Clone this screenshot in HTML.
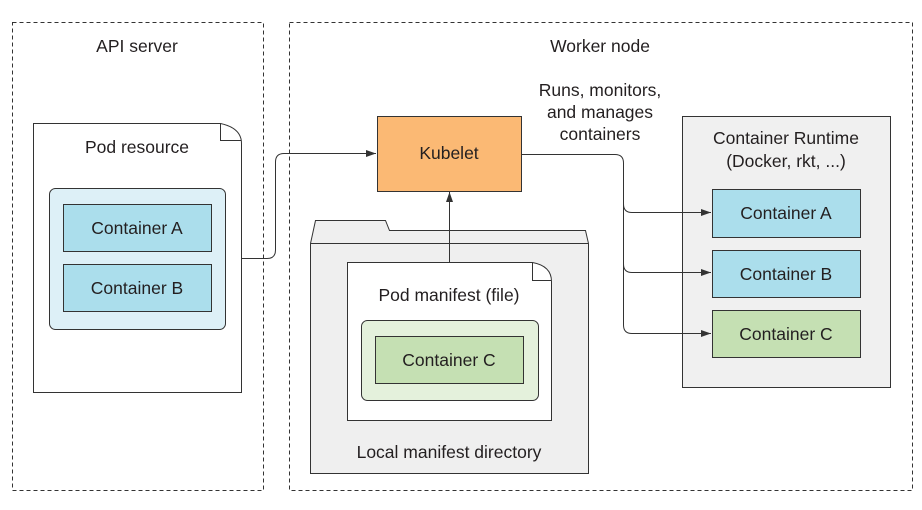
<!DOCTYPE html>
<html><head><style>
body{margin:0;background:#fff;}
svg text{font-family:"Liberation Sans",sans-serif;font-size:17.5px;fill:#231f20;text-anchor:middle;}
</style></head><body>
<svg width="922" height="505" viewBox="0 0 922 505" xmlns="http://www.w3.org/2000/svg">
<defs><marker id="a" markerWidth="10" markerHeight="8" refX="10" refY="4" orient="auto" markerUnits="userSpaceOnUse"><path d="M0,0.5 L10,4 L0,7.5 Z" fill="#333"/></marker></defs>
<g fill="none" stroke="#333" stroke-width="1" stroke-dasharray="4,3">
<rect x="12.5" y="22.5" width="251" height="468"/>
<rect x="289.5" y="22.5" width="623" height="468"/>
</g>
<text x="137" y="52">API server</text>
<text x="600" y="52">Worker node</text>
<path d="M33.5,123.5 H220.5 Q241.5,128 241.5,143.5 V392.5 H33.5 Z" fill="#fff" stroke="#333"/>
<path d="M220.5,123.5 V140.5 H241" fill="none" stroke="#333"/>
<text x="137" y="153">Pod resource</text>
<rect x="49.5" y="188.5" width="176" height="141" rx="6" fill="#ddf0f7" stroke="#333"/>
<rect x="63.5" y="204.5" width="148" height="47" fill="#abdeec" stroke="#333"/>
<rect x="63.5" y="264.5" width="148" height="47" fill="#abdeec" stroke="#333"/>
<text x="137" y="234">Container A</text>
<text x="137" y="294">Container B</text>
<path d="M241.5,258.5 H267 Q275.5,258.5 275.5,250 V162 Q275.5,153.5 284,153.5 H376" fill="none" stroke="#333" marker-end="url(#a)"/>
<rect x="377.5" y="116.5" width="144" height="75" fill="#fbb974" stroke="#333"/>
<text x="449" y="159">Kubelet</text>
<path d="M310.5,243.5 L315.5,220.5 H385.5 L389.5,230.5 H585.5 L588.5,243.5 V473.5 H310.5 Z" fill="#efefef" stroke="#333"/>
<path d="M310.5,243.5 H588.5" stroke="#333"/>
<path d="M347.5,262.5 H532.5 Q551.5,266 551.5,281.5 V420.5 H347.5 Z" fill="#fff" stroke="#333"/>
<path d="M532.5,262.5 V280.5 H551" fill="none" stroke="#333"/>
<text x="449" y="301">Pod manifest (file)</text>
<rect x="361.5" y="320.5" width="177" height="80" rx="6" fill="#e4f1dc" stroke="#333"/>
<rect x="375.5" y="336.5" width="148" height="47" fill="#c5e0b3" stroke="#333"/>
<text x="449" y="366">Container C</text>
<text x="449" y="458">Local manifest directory</text>
<path d="M449.5,262 V192" fill="none" stroke="#333" marker-end="url(#a)"/>
<rect x="682.5" y="116.5" width="208" height="271" fill="#f0f0f0" stroke="#333"/>
<text x="786" y="144">Container Runtime</text>
<text x="786" y="167">(Docker, rkt, ...)</text>
<rect x="712.5" y="189.5" width="148" height="48" fill="#abdeec" stroke="#333"/>
<rect x="712.5" y="250.5" width="148" height="47" fill="#abdeec" stroke="#333"/>
<rect x="712.5" y="310.5" width="148" height="47" fill="#c5e0b3" stroke="#333"/>
<text x="786" y="219">Container A</text>
<text x="786" y="280">Container B</text>
<text x="786" y="340">Container C</text>
<g fill="none" stroke="#333">
<path d="M521.5,154.5 H615 Q623.5,154.5 623.5,163 V325 Q623.5,333.5 632,333.5 H711" marker-end="url(#a)"/>
<path d="M623.5,204 Q623.5,212.5 632,212.5 H711" marker-end="url(#a)"/>
<path d="M623.5,264 Q623.5,272.5 632,272.5 H711" marker-end="url(#a)"/>
</g>
<text x="600" y="96">Runs, monitors,</text>
<text x="600" y="118">and manages</text>
<text x="600" y="140">containers</text>
</svg>
</body></html>
